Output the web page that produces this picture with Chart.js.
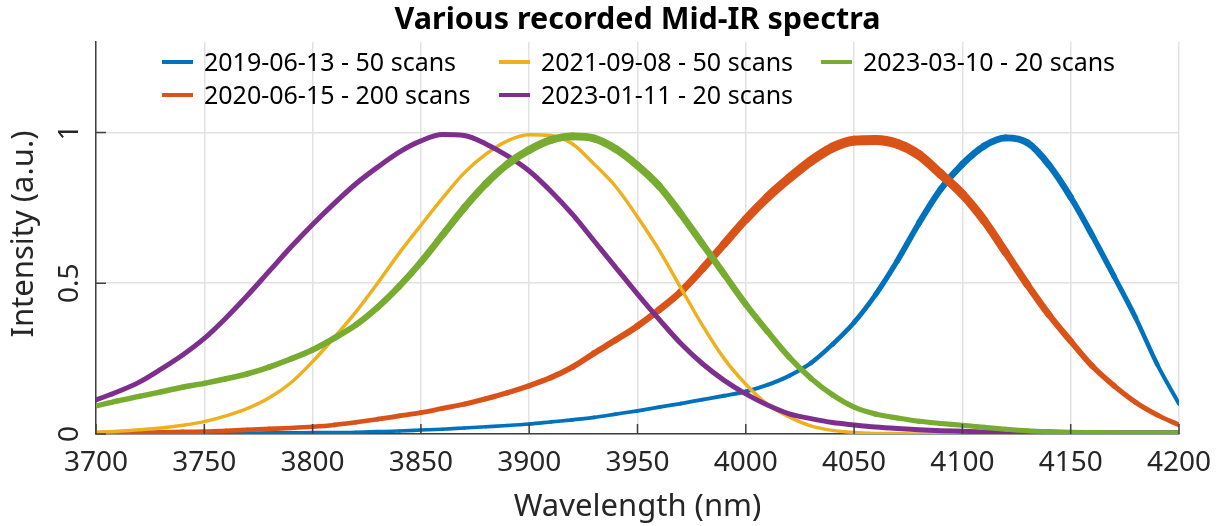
<!DOCTYPE html>
<html>
<head>
<meta charset="utf-8">
<title>Mid-IR spectra</title>
<script src="https://cdn.jsdelivr.net/npm/chart.js@4.4.1/dist/chart.umd.min.js"></script>
<style>
  html, body { margin: 0; padding: 0; background: #ffffff; }
  #wrap { width: 1220px; height: 526px; }
</style>
</head>
<body>
<div id="wrap"><canvas id="spectraChart" width="1220" height="526"></canvas></div>
<script>
// wavelength grid (nm)
const wavelengths = [
  3700, 3710, 3720, 3730, 3740, 3750, 3760, 3770, 3780, 3790,
  3800, 3810, 3820, 3830, 3840, 3850, 3860, 3870, 3880, 3890,
  3900, 3910, 3920, 3930, 3940, 3950, 3960, 3970, 3980, 3990,
  4000, 4010, 4020, 4030, 4040, 4050, 4060, 4070, 4080, 4090,
  4100, 4110, 4120, 4130, 4140, 4150, 4160, 4170, 4180, 4190,
  4200
];

// normalised intensities, one array per measurement
const spec20190613 = [
  0.000, 0.000, 0.001, 0.001, 0.002, 0.002, 0.003, 0.003, 0.004, 0.004,
  0.005, 0.005, 0.006, 0.008, 0.010, 0.013, 0.016, 0.020, 0.024, 0.028,
  0.033, 0.040, 0.047, 0.055, 0.066, 0.077, 0.089, 0.101, 0.114, 0.127,
  0.141, 0.163, 0.193, 0.235, 0.297, 0.370, 0.463, 0.575, 0.700, 0.812,
  0.895, 0.955, 0.982, 0.966, 0.892, 0.785, 0.658, 0.523, 0.385, 0.230,
  0.100
];
const spec20200615 = [
  0.003, 0.004, 0.005, 0.006, 0.007, 0.008, 0.011, 0.014, 0.017, 0.020,
  0.024, 0.030, 0.039, 0.049, 0.060, 0.071, 0.085, 0.099, 0.117, 0.137,
  0.160, 0.187, 0.222, 0.268, 0.312, 0.358, 0.412, 0.472, 0.548, 0.630,
  0.712, 0.785, 0.848, 0.905, 0.950, 0.973, 0.975, 0.962, 0.925, 0.862,
  0.795, 0.708, 0.602, 0.495, 0.395, 0.308, 0.225, 0.160, 0.105, 0.063,
  0.030
];
const spec20210908 = [
  0.006, 0.009, 0.014, 0.020, 0.029, 0.041, 0.060, 0.085, 0.120, 0.170,
  0.240, 0.320, 0.405, 0.500, 0.600, 0.692, 0.782, 0.866, 0.928, 0.972,
  0.992, 0.990, 0.962, 0.895, 0.820, 0.720, 0.610, 0.485, 0.360, 0.250,
  0.165, 0.098, 0.057, 0.027, 0.012, 0.005, 0.002, 0.001, 0.000, 0.000,
  0.000, 0.000, 0.000, 0.000, 0.000, 0.000, 0.000, 0.000, 0.000, 0.000,
  0.000
];
const spec20230111 = [
  0.113, 0.140, 0.172, 0.215, 0.262, 0.317, 0.385, 0.460, 0.540, 0.620,
  0.695, 0.765, 0.830, 0.885, 0.935, 0.972, 0.993, 0.990, 0.962, 0.922,
  0.872, 0.805, 0.728, 0.640, 0.552, 0.464, 0.380, 0.300, 0.233, 0.178,
  0.133, 0.096, 0.067, 0.051, 0.038, 0.030, 0.023, 0.018, 0.014, 0.011,
  0.009, 0.007, 0.006, 0.005, 0.005, 0.004, 0.004, 0.004, 0.004, 0.004,
  0.004
];
const spec20230310 = [
  0.093, 0.110, 0.125, 0.140, 0.155, 0.168, 0.183, 0.200, 0.222, 0.249,
  0.279, 0.318, 0.362, 0.420, 0.490, 0.570, 0.660, 0.750, 0.830, 0.895,
  0.942, 0.975, 0.987, 0.980, 0.945, 0.890, 0.822, 0.730, 0.630, 0.530,
  0.430, 0.340, 0.255, 0.185, 0.130, 0.089, 0.066, 0.053, 0.042, 0.035,
  0.029, 0.022, 0.016, 0.011, 0.008, 0.006, 0.005, 0.004, 0.004, 0.004,
  0.004
];

const seriesLabels = [
  '2019-06-13 - 50 scans',
  '2020-06-15 - 200 scans',
  '2021-09-08 - 50 scans',
  '2023-01-11 - 20 scans',
  '2023-03-10 - 20 scans'
];

const xTicks = [3700, 3750, 3800, 3850, 3900, 3950, 4000, 4050, 4100, 4150, 4200];
const xTickLabels = ['3700', '3750', '3800', '3850', '3900', '3950', '4000', '4050', '4100', '4150', '4200'];
const yTicks = [0, 0.5, 1];
const yTickLabels = ['0', '0.5', '1'];

const chartTitle = 'Various recorded Mid-IR spectra';
const xTitle = 'Wavelength (nm)';
const yTitle = 'Intensity (a.u.)';

// MATLAB default colour order
const colors = ['#0072BD', '#D95319', '#EDB120', '#7E2F8E', '#77AC30'];
// noisier scans get a thicker trace; width grows with signal
const widthBase = [3.5, 4.5, 3.5, 5, 5];
const widthGain = [3.5, 5.5, 0, 0, 3];

const FONT = "'Noto Sans', 'Open Sans', sans-serif";
const AXIS_COLOR = '#404040';
const TEXT_COLOR = '#262626';
const GRID_COLOR = '#e2e2e2';

const allSeries = [spec20190613, spec20200615, spec20210908, spec20230111, spec20230310];

const datasets = allSeries.map((vals, i) => ({
  label: seriesLabels[i],
  data: wavelengths.map((w, k) => ({ x: w, y: vals[k] })),
  borderColor: colors[i],
  backgroundColor: colors[i],
  borderWidth: widthBase[i],
  borderCapStyle: 'round',
  borderJoinStyle: 'round',
  pointRadius: 0,
  cubicInterpolationMode: 'monotone',
  // later series sit on top, like MATLAB's hold on
  order: allSeries.length - i,
  segment: {
    borderWidth: c => widthBase[i] + widthGain[i] * (c.p0.parsed.y + c.p1.parsed.y) / 2
  }
}));

// legend is laid out column-first: 3 columns, 2 rows
const legendCols = [[0, 1], [2, 3], [4]];
const legendColX = [162, 499, 821];
const legendRowY = [62, 95];

const decorPlugin = {
  id: 'decor',
  afterDraw(chart) {
    const ctx = chart.ctx;
    const area = chart.chartArea;
    const xs = chart.scales.x;
    const ys = chart.scales.y;
    const midX = (area.left + area.right) / 2;
    ctx.save();

    // inward tick marks
    ctx.strokeStyle = AXIS_COLOR;
    ctx.lineWidth = 1.5;
    ctx.beginPath();
    xTicks.forEach(v => {
      const px = xs.getPixelForValue(v);
      ctx.moveTo(px, area.bottom);
      ctx.lineTo(px, area.bottom - 10);
    });
    yTicks.forEach(v => {
      const py = ys.getPixelForValue(v);
      ctx.moveTo(area.left, py);
      ctx.lineTo(area.left + 10, py);
    });
    ctx.stroke();

    // rotated y tick labels
    ctx.fillStyle = TEXT_COLOR;
    ctx.font = `28px ${FONT}`;
    ctx.textAlign = 'center';
    ctx.textBaseline = 'alphabetic';
    yTicks.forEach((v, i) => {
      const py = ys.getPixelForValue(v);
      ctx.save();
      ctx.translate(78, py);
      ctx.rotate(-Math.PI / 2);
      ctx.fillText(yTickLabels[i], 0, 0);
      ctx.restore();
    });

    // axis titles
    ctx.font = `31px ${FONT}`;
    ctx.save();
    ctx.translate(33, 234);
    ctx.rotate(-Math.PI / 2);
    ctx.fillText(yTitle, 0, 0);
    ctx.restore();
    ctx.fillText(xTitle, midX, 516);

    // chart title
    ctx.fillStyle = '#000000';
    ctx.font = `bold 30.5px ${FONT}`;
    ctx.fillText(chartTitle, midX, 28.5);

    // legend
    ctx.font = `25px ${FONT}`;
    ctx.textAlign = 'left';
    ctx.lineWidth = 4;
    legendCols.forEach((col, c) => {
      col.forEach((idx, r) => {
        const x0 = legendColX[c];
        const y0 = legendRowY[r];
        ctx.strokeStyle = colors[idx];
        ctx.beginPath();
        ctx.moveTo(x0, y0);
        ctx.lineTo(x0 + 31, y0);
        ctx.stroke();
        ctx.fillStyle = '#000000';
        ctx.fillText(seriesLabels[idx], x0 + 42, y0 + 8.5);
      });
    });

    ctx.restore();
  }
};

new Chart(document.getElementById('spectraChart'), {
  type: 'line',
  data: { datasets },
  options: {
    responsive: false,
    animation: false,
    devicePixelRatio: 1,
    parsing: false,
    layout: { padding: { top: 42, right: 41, left: 0, bottom: 0 } },
    plugins: {
      legend: { display: false },
      title: { display: false },
      tooltip: { enabled: false }
    },
    scales: {
      x: {
        type: 'linear',
        min: 3700,
        max: 4200,
        afterBuildTicks: s => { s.ticks = xTicks.map(v => ({ value: v })); },
        afterFit: s => {
          s.height = 92;
          // the outer padding already leaves room for the end labels
          s.paddingLeft = 0;
          s.paddingRight = 0;
        },
        grid: { color: GRID_COLOR, lineWidth: 1.5, drawTicks: false },
        border: { display: true, color: AXIS_COLOR, width: 1.5 },
        ticks: {
          color: TEXT_COLOR,
          font: { family: FONT, size: 28 },
          padding: 12,
          maxRotation: 0,
          callback: (v, i) => xTickLabels[i]
        }
      },
      y: {
        type: 'linear',
        min: 0,
        max: 1.3,
        afterBuildTicks: s => { s.ticks = yTicks.map(v => ({ value: v })); },
        afterFit: s => { s.width = 96; },
        grid: { color: GRID_COLOR, lineWidth: 1.5, drawTicks: false },
        border: { display: true, color: AXIS_COLOR, width: 1.5 },
        ticks: { display: false }
      }
    }
  },
  plugins: [decorPlugin]
});
</script>
</body>
</html>
